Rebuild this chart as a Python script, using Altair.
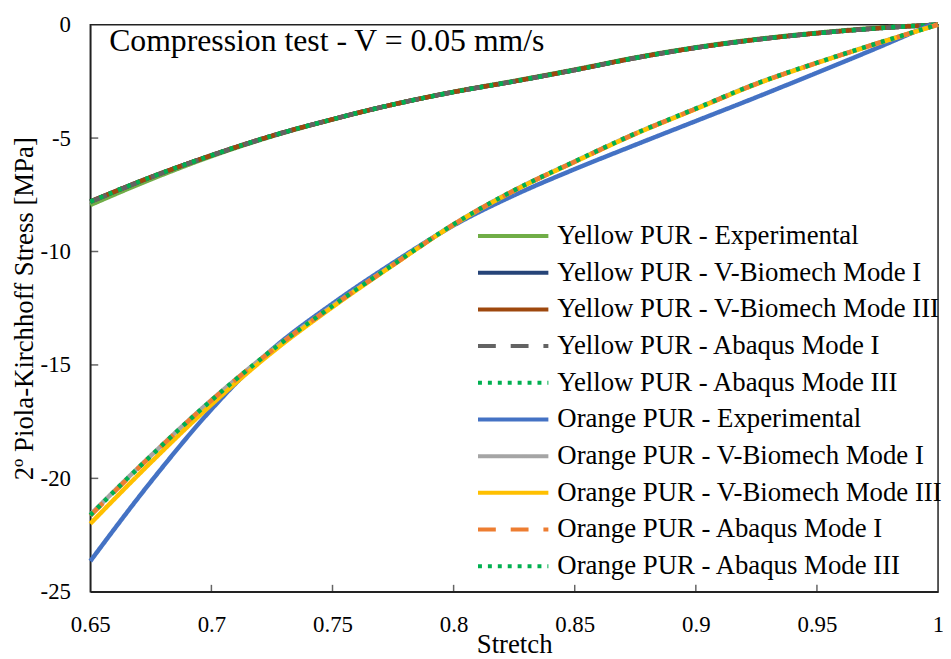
import altair as alt
import pandas as pd

# ---- data ----
stretch = [0.65, 0.675, 0.70, 0.725, 0.75, 0.775, 0.80, 0.825, 0.85, 0.875, 0.90, 0.925, 0.95, 0.975, 1.0]
stretch_orange_exp = [0.65, 0.675, 0.70, 0.7125, 0.725, 0.75, 0.775, 0.80, 0.825, 0.85, 0.875,
                      0.90, 0.925, 0.95, 0.975, 0.997]

yellow_exp = [-7.95, -6.82, -5.80, -4.92, -4.18, -3.52, -2.96, -2.48, -1.98, -1.45, -1.00, -0.64, -0.36, -0.14, 0.0]
yellow_vb1 = [-7.80, -6.72, -5.76, -4.90, -4.17, -3.52, -2.97, -2.50, -2.00, -1.47, -1.02, -0.66, -0.38, -0.16, 0.0]
yellow_vb3 = [-7.80, -6.72, -5.76, -4.90, -4.17, -3.52, -2.97, -2.50, -2.00, -1.47, -1.02, -0.66, -0.38, -0.16, 0.0]
yellow_ab1 = [-7.82, -6.73, -5.77, -4.91, -4.17, -3.52, -2.97, -2.50, -2.00, -1.47, -1.02, -0.66, -0.38, -0.16, 0.0]
yellow_ab3 = [-7.80, -6.72, -5.76, -4.90, -4.17, -3.52, -2.97, -2.50, -2.00, -1.47, -1.02, -0.66, -0.38, -0.16, 0.0]

orange_exp = [-23.65, -20.15, -16.96, -15.55, -14.32, -12.30, -10.50, -8.85, -7.52, -6.37, -5.30,
              -4.25, -3.20, -2.12, -1.02, 0.0]
orange_vb1 = [-21.60, -19.00, -16.55, -14.35, -12.40, -10.58, -8.80, -7.30, -6.03, -4.80, -3.70, -2.60, -1.68, -0.82, 0.0]
orange_vb3 = [-22.00, -19.30, -16.75, -14.45, -12.45, -10.60, -8.82, -7.32, -6.05, -4.82, -3.72, -2.62, -1.69, -0.83, 0.0]
orange_ab1 = [-21.65, -19.02, -16.57, -14.36, -12.41, -10.59, -8.81, -7.31, -6.04, -4.81, -3.71, -2.61, -1.68, -0.82, 0.0]
orange_ab3 = [-21.62, -19.01, -16.56, -14.35, -12.40, -10.58, -8.80, -7.30, -6.03, -4.80, -3.70, -2.60, -1.68, -0.82, 0.0]

series_names = [
    "Yellow PUR - Experimental",
    "Yellow PUR - V-Biomech Mode I",
    "Yellow PUR - V-Biomech Mode III",
    "Yellow PUR - Abaqus Mode I",
    "Yellow PUR - Abaqus Mode III",
    "Orange PUR - Experimental",
    "Orange PUR - V-Biomech Mode I",
    "Orange PUR - V-Biomech Mode III",
    "Orange PUR - Abaqus Mode I",
    "Orange PUR - Abaqus Mode III",
]
series_values = [yellow_exp, yellow_vb1, yellow_vb3, yellow_ab1, yellow_ab3,
                 orange_exp, orange_vb1, orange_vb3, orange_ab1, orange_ab3]
series_x = [stretch] * 5 + [stretch_orange_exp] + [stretch] * 4

x_ticks = [0.65, 0.70, 0.75, 0.80, 0.85, 0.90, 0.95, 1.0]
y_ticks = [0, -5, -10, -15, -20, -25]
x_inner_ticks = [0.70, 0.75, 0.80, 0.85, 0.90, 0.95]
y_inner_ticks = [-5, -10, -15, -20]

# ---- styles ----
colors = ["#70AD47", "#264478", "#9E480E", "#636363", "#00B050",
          "#4472C4", "#A5A5A5", "#FFC000", "#ED7D31", "#00B050"]
solid = [1, 0]
dashed = [18, 15]
dotted = [4, 6]
dashes = [solid, solid, solid, dashed, dotted, solid, solid, solid, dashed, dotted]

rows = []
for name, xs, ys in zip(series_names, series_x, series_values):
    for i, (xv, yv) in enumerate(zip(xs, ys)):
        rows.append({"series": name, "stretch": xv, "stress": yv, "idx": i})
df = pd.DataFrame(rows)

FONT = "Liberation Serif"

x_enc = alt.X("stretch:Q",
              scale=alt.Scale(domain=[0.65, 1.0], nice=False, zero=False),
              axis=alt.Axis(title="Stretch", values=x_ticks,
                            labelExpr="toString(datum.value)",
                            labelFlush=False, labelOverlap=False,
                            ticks=False, grid=False, labelPadding=22,
                            titlePadding=-5))
y_enc = alt.Y("stress:Q",
              scale=alt.Scale(domain=[-25, 0], nice=False, zero=False),
              axis=alt.Axis(title="2º Piola-Kirchhoff Stress [MPa]", values=y_ticks,
                            labelExpr="toString(datum.value)",
                            labelFlush=False, labelOverlap=False,
                            ticks=False, grid=False, labelPadding=20,
                            titlePadding=2))

legend = alt.Legend(title=None, orient="none", legendX=389, legendY=195,
                    symbolType="stroke", symbolSize=71 * 71, symbolStrokeWidth=4,
                    labelFont=FONT, labelFontSize=27, labelColor="black",
                    labelLimit=0, labelOffset=7, rowPadding=0, padding=0,
                    clipHeight=36.4)

color_enc = alt.Color("series:N", scale=alt.Scale(domain=series_names, range=colors),
                      legend=legend)
dash_enc = alt.StrokeDash("series:N", scale=alt.Scale(domain=series_names, range=dashes),
                          legend=legend)

layers = []
for name in series_names:
    layers.append(
        alt.Chart(df)
        .transform_filter(alt.datum.series == name)
        .mark_line(strokeWidth=4.5, interpolate="monotone")
        .encode(x=x_enc, y=y_enc, color=color_enc, strokeDash=dash_enc,
                order="idx:Q")
    )

xt = alt.Chart(pd.DataFrame({"t": x_inner_ticks})).mark_tick(
    orient="vertical", size=7, thickness=1.5, color="#222", yOffset=-3.5
).encode(x=alt.X("t:Q"), y=alt.datum(-25))
yt = alt.Chart(pd.DataFrame({"t": y_inner_ticks})).mark_tick(
    orient="horizontal", size=8, thickness=1.5, color="#222", xOffset=4
).encode(y=alt.Y("t:Q"), x=alt.datum(0.65))

chart = alt.layer(*layers, xt, yt).properties(
    width=855, height=572,
    padding={"left": 83, "top": 14, "right": 5, "bottom": 65},
    autosize=alt.AutoSizeParams(type="none"),
    title=alt.TitleParams("Compression test - V = 0.05 mm/s", anchor="start",
                          frame="group", offset=-32, dx=19, dy=38, font=FONT,
                          fontSize=32, fontWeight="normal", color="black",
                          baseline="alphabetic"),
).configure_view(stroke="#222", strokeWidth=1.5).configure_axis(
    labelFont=FONT, titleFont=FONT, labelFontSize=23, titleFontSize=27,
    labelColor="black", titleColor="black", titleFontWeight="normal",
    domainColor="#222", domainWidth=1.5
)

chart.save("out.html", embed_options={"renderer": "svg", "actions": False})
